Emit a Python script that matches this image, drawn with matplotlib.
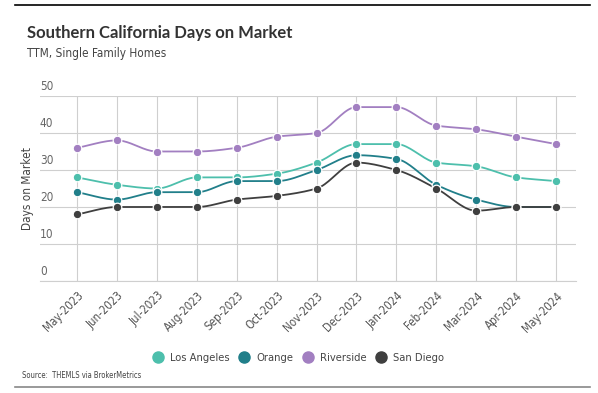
import numpy as np
import matplotlib
matplotlib.use("Agg")
import matplotlib.pyplot as plt
from matplotlib import font_manager as fm
from matplotlib.lines import Line2D

# data
months = ["May-2023", "Jun-2023", "Jul-2023", "Aug-2023", "Sep-2023", "Oct-2023",
          "Nov-2023", "Dec-2023", "Jan-2024", "Feb-2024", "Mar-2024", "Apr-2024",
          "May-2024"]
los_angeles = [28, 26, 25, 28, 28, 29, 32, 37, 37, 32, 31, 28, 27]
orange = [24, 22, 24, 24, 27, 27, 30, 34, 33, 26, 22, 20, 20]
riverside = [36, 38, 35, 35, 36, 39, 40, 47, 47, 42, 41, 39, 37]
san_diego = [18, 20, 20, 20, 22, 23, 25, 32, 30, 25, 19, 20, 20]
y_ticks = [0, 10, 20, 30, 40, 50]

series = [
    ("Los Angeles", los_angeles, "#4dbfac"),
    ("Orange", orange, "#217f8a"),
    ("Riverside", riverside, "#a27fc1"),
    ("San Diego", san_diego, "#3f3f3f"),
]

# fonts: look for a condensed face
cond = [f for f in fm.fontManager.ttflist
        if f.stretch in ("condensed", "semi-condensed") and f.style == "normal"
        and f.weight in (400, "normal", "regular")]
if cond:
    narrow_prop = fm.FontProperties(fname=sorted(cond, key=lambda f: f.fname)[0].fname)
else:
    narrow_prop = fm.FontProperties(family="DejaVu Sans")
title_font = "Lato"


def nprop(size):
    p = narrow_prop.copy()
    p.set_size(size)
    return p


def monotone(y, n=20):
    # monotone cubic (Fritsch-Carlson) for smooth lines
    y = np.asarray(y, float)
    x = np.arange(len(y))
    d = np.diff(y)
    m = np.zeros(len(y))
    m[0], m[-1] = d[0], d[-1]
    for i in range(1, len(y) - 1):
        if d[i - 1] * d[i] <= 0:
            m[i] = 0
        else:
            m[i] = 2 / (1 / d[i - 1] + 1 / d[i])
    xs, ys = [], []
    for i in range(len(y) - 1):
        t = np.linspace(0, 1, n, endpoint=False)
        h00 = 2 * t**3 - 3 * t**2 + 1
        h10 = t**3 - 2 * t**2 + t
        h01 = -2 * t**3 + 3 * t**2
        h11 = t**3 - t**2
        xs.append(x[i] + t)
        ys.append(h00 * y[i] + h10 * m[i] + h01 * y[i + 1] + h11 * m[i + 1])
    xs.append([x[-1]])
    ys.append([y[-1]])
    return np.concatenate(xs), np.concatenate(ys)


fig = plt.figure(figsize=(5.98, 3.93), dpi=100)
ax = fig.add_axes([40 / 598, 1 - 281 / 393, 536 / 598, 185 / 393])

x = np.arange(len(months))
for name, vals, col in series:
    sx, sy = monotone(vals)
    ax.plot(sx, sy, color=col, lw=1.3, zorder=3)
    ax.plot(x, vals, "o", color=col, ms=6.2, mec="white", mew=0.9, zorder=4)

ax.set_xlim(-0.93, 12.5)
ax.set_ylim(0, 50)
ax.set_yticks(y_ticks)
ax.set_xticks(x)
ax.set_xticklabels(months, rotation=45, ha="right", rotation_mode="anchor",
                   fontproperties=nprop(8.3), color="#555555")
ax.tick_params(axis="x", length=0, pad=6)
ax.tick_params(axis="y", length=0, labelleft=False)
ax.grid(True, color="#cfcfcf", lw=0.8)
ax.set_axisbelow(True)
for s in ["top", "right", "left"]:
    ax.spines[s].set_visible(False)
ax.spines["bottom"].set_color("#cfcfcf")
ax.spines["bottom"].set_linewidth(0.8)

for v in y_ticks:
    ax.text(-0.93, v + 0.9, str(v), ha="left", va="bottom",
            fontproperties=nprop(8.5), color="#666666")

fig.text(28 / 598, 1 - 188 / 393, "Days on Market", rotation=90, ha="center",
         va="center", fontproperties=nprop(8.5), color="#444444")

fig.text(27 / 598, 1 - 33 / 393, "Southern California Days on Market", fontsize=12,
         fontweight="bold", color="#333333", family=title_font, va="center")
fig.text(27 / 598, 1 - 53 / 393, "TTM, Single Family Homes",
         fontproperties=nprop(8.5), color="#444444", va="center")
fig.text(22 / 598, 1 - 375 / 393, "Source:  THEMLS via BrokerMetrics",
         fontproperties=nprop(5.5), color="#444444", va="center")

fig.add_artist(Line2D([15 / 598, 590 / 598], [1 - 5 / 393] * 2, color="black", lw=1.2))
fig.add_artist(Line2D([15 / 598, 590 / 598], [1 - 387 / 393] * 2, color="#888888", lw=1.2))

handles = [Line2D([], [], ls="", marker="o", ms=8, color=c) for _, _, c in series]
fig.legend(handles, [n for n, _, _ in series], loc="center", ncol=4,
           bbox_to_anchor=(298 / 598, 1 - 358 / 393), frameon=False,
           prop=nprop(8), handletextpad=0.6,
           columnspacing=0.8, handlelength=1.0)
for t in fig.legends[0].get_texts():
    t.set_color("#444444")

fig.savefig("out.png", dpi=100)
